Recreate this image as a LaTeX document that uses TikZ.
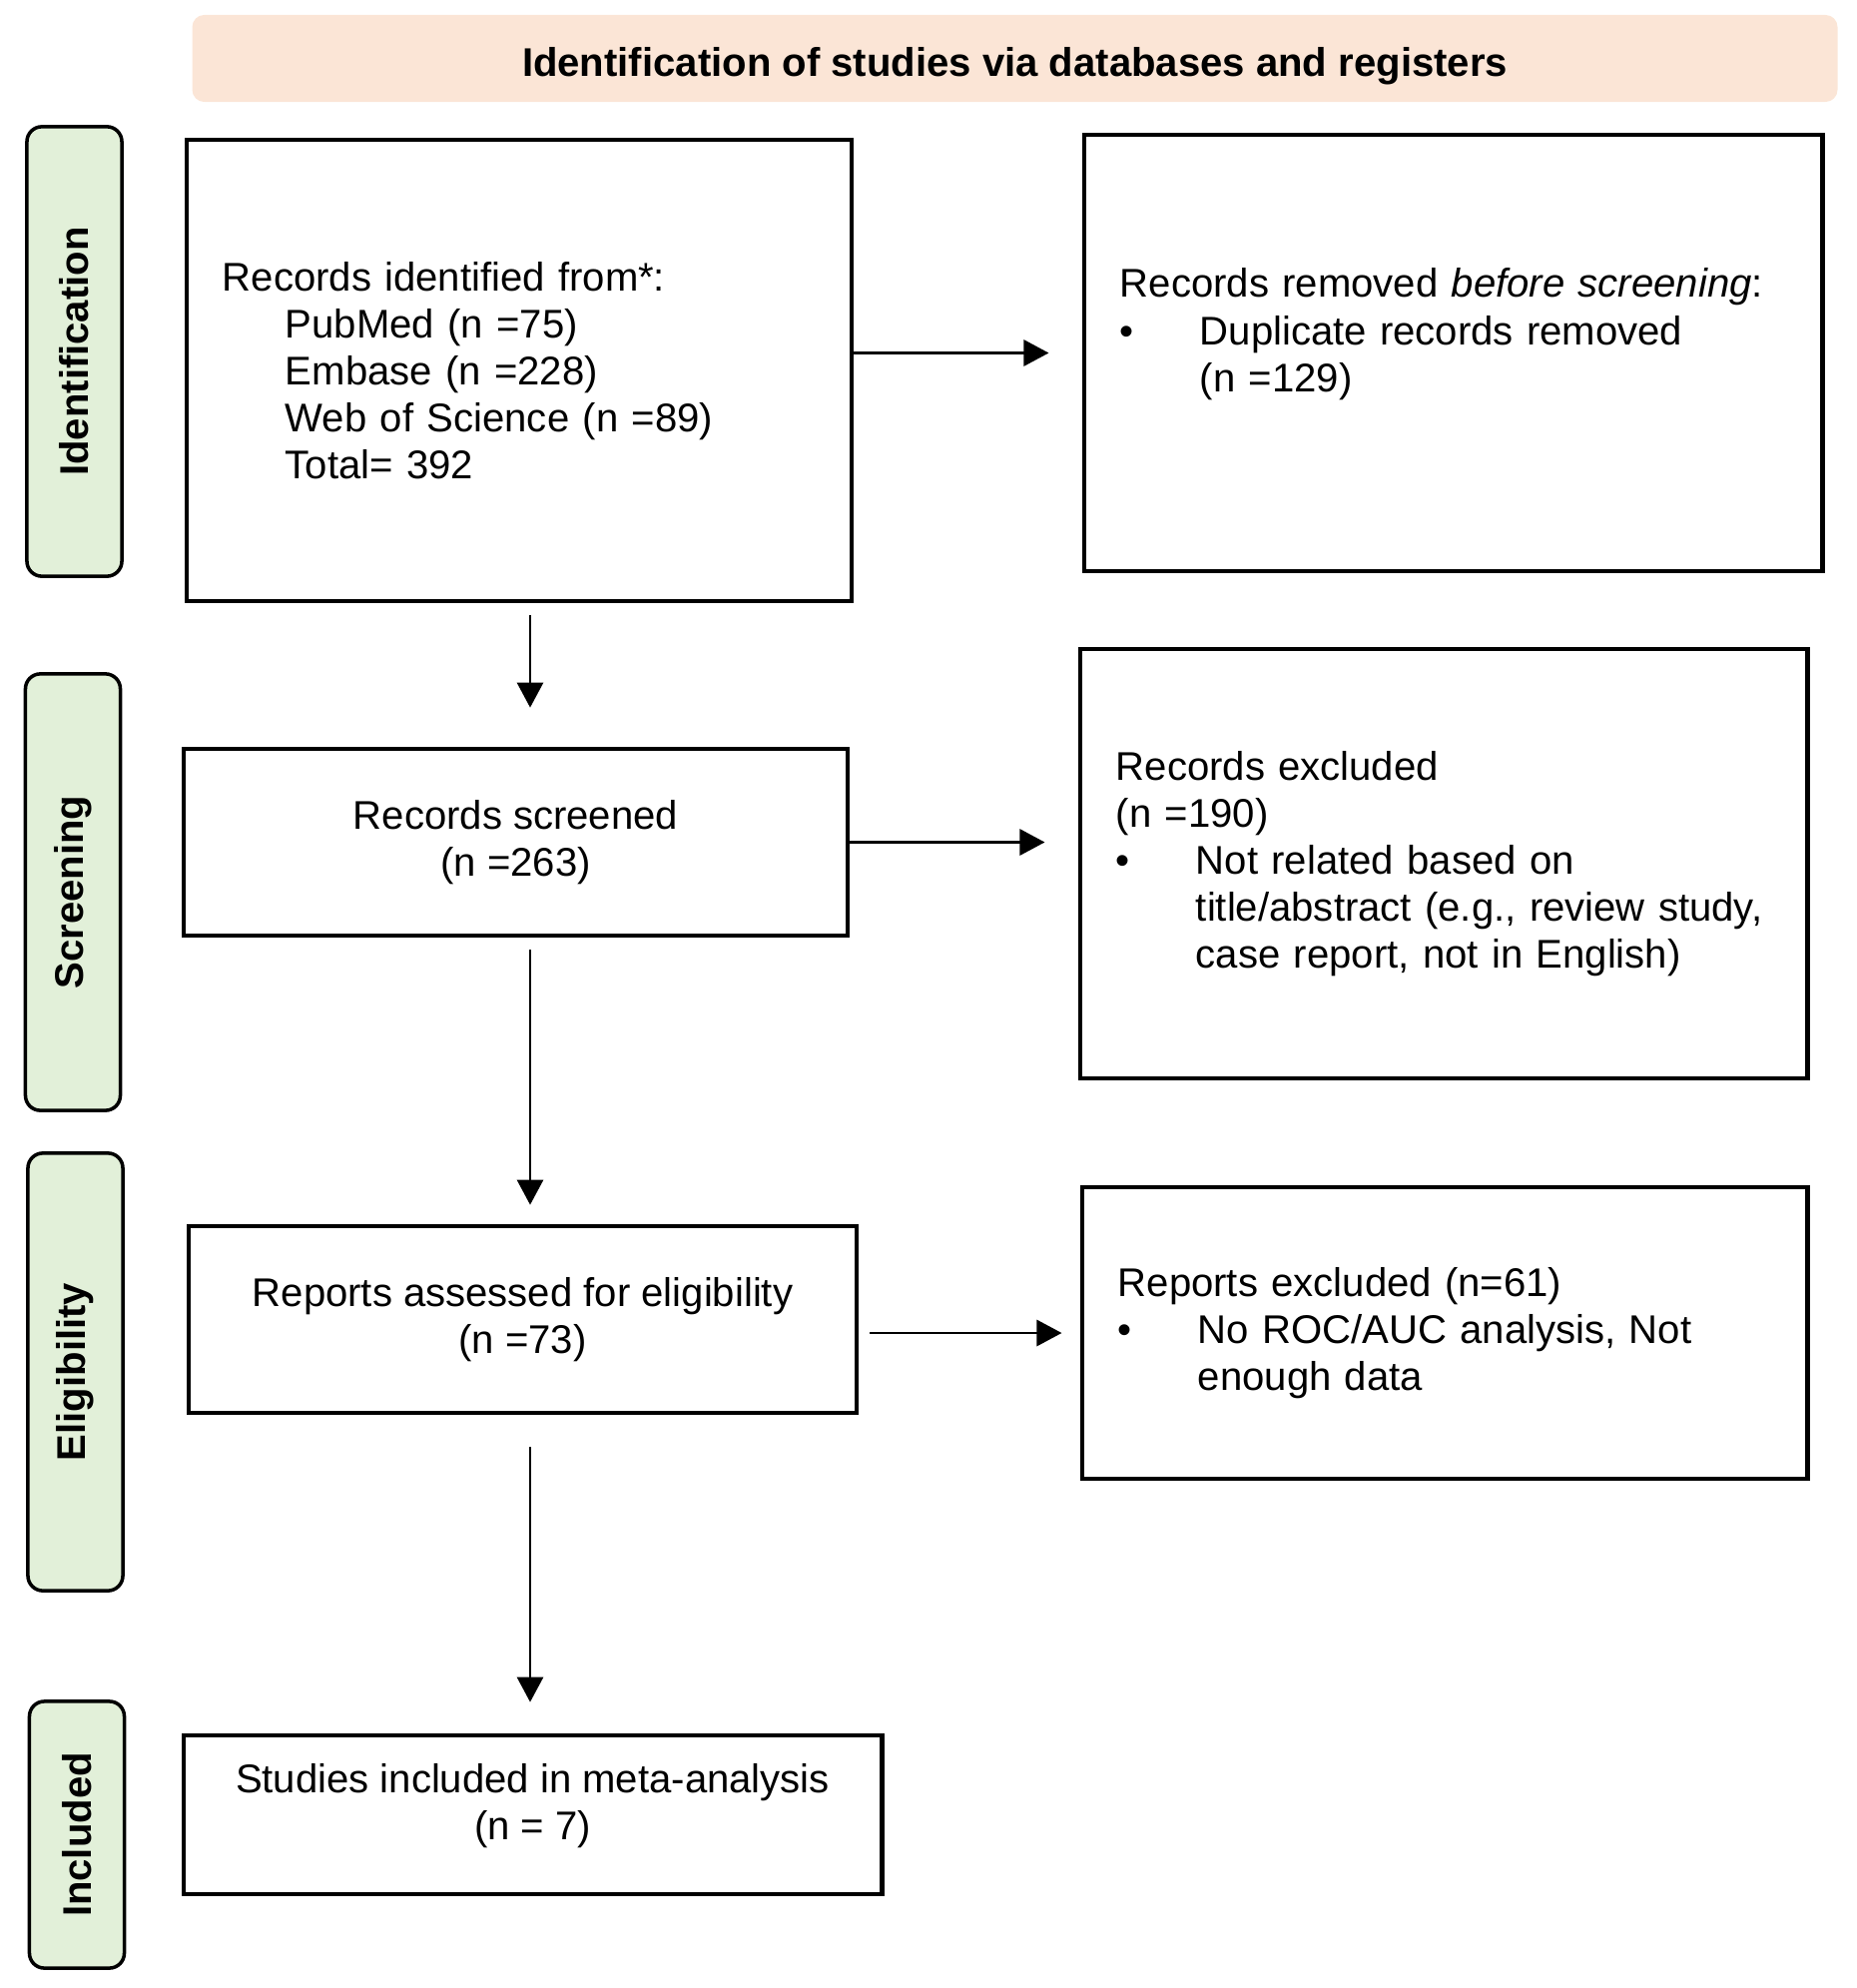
\documentclass[tikz,border=0pt]{standalone}
\usepackage{fontspec}
\setmainfont{Liberation Sans}
\usepackage{tikz}
\usetikzlibrary{arrows.meta}

\definecolor{headpeach}{HTML}{FBE5D6}
\definecolor{phasegreen}{HTML}{E2F0D9}
\newcommand{\bul}{\makebox[0.8cm][l]{\textbullet}}
\newcommand{\ind}{\hspace*{0.8cm}}
\newcommand{\srcind}{\hspace*{0.63cm}}

\begin{document}
\begin{tikzpicture}
  [x=0.01cm,y=-0.01cm,
   every node/.style={font=\fontsize{11.4}{13.4}\selectfont},
   head/.style={fill=headpeach,rounded corners=0.12cm,minimum width=16.47cm,
     minimum height=0.87cm,font=\bfseries\fontsize{11.4}{13.4}\selectfont},
   phase/.style={draw,line width=1pt,fill=phasegreen,rounded corners=0.15cm,
     rotate=90,minimum height=0.95cm,font=\bfseries\fontsize{11.4}{13.4}\selectfont},
   box/.style={draw,line width=1.3pt,align=center},
   lbox/.style={draw,line width=1.3pt,align=left,inner xsep=0.36cm},
   arr/.style={line width=0.8pt,-{Triangle[length=0.25cm,width=0.26cm]}}]
  \useasboundingbox (0,0) rectangle (1859,1991);

  % header and phases
  \node[head] (title) at (1016.5,58.5) {\rule{0pt}{2.1ex}Identification of studies via databases and registers};
  \node[phase,minimum width=4.50cm] (pident) at (74.5,352) {Identification};
  \node[phase,minimum width=4.37cm] (pscreen) at (73,893.5) {Screening};
  \node[phase,minimum width=4.38cm] (pelig) at (75.5,1374) {Eligibility};
  \node[phase,minimum width=2.67cm] (pincl) at (77,1837.5) {Included};

  % main column
  \node[lbox,text width=5.94cm,minimum height=4.62cm] (ident) at (520,371)
    {Records identified from*:\\
     \srcind PubMed (n =75)\\
     \srcind Embase (n =228)\\
     \srcind Web of Science (n =89)\\
     \srcind Total= 392};
  \node[box,minimum width=6.65cm,minimum height=1.87cm] (screened) at (516.5,843.5)
    {Records screened\\(n =263)};
  \node[box,minimum width=6.69cm,minimum height=1.87cm] (assessed) at (523.5,1321.5)
    {Reports assessed for eligibility\\(n =73)};
  \node[box,minimum width=6.99cm,minimum height=1.59cm] (included) at (533.5,1817.5)
    {Studies included in meta-analysis\\(n = 7)\rule[-0.26cm]{0pt}{0pt}};

  % side column
  \node[lbox,text width=6.67cm,minimum height=4.37cm] (removed) at (1455.5,353.5)
    {Records removed \textit{before screening}:\\
     \bul Duplicate records removed\\
     \ind (n =129)\rule[-0.46cm]{0pt}{0pt}};
  \node[lbox,text width=6.56cm,minimum height=4.30cm] (excluded) at (1446,865)
    {Records excluded\\
     (n =190)\\
     \bul Not related based on\\
     \ind title/abstract (e.g., review study,\\
     \ind case report, not in English)};
  \node[lbox,text width=6.54cm,minimum height=2.92cm] (rexcl) at (1447,1335)
    {Reports excluded (n=61)\\
     \bul No ROC/AUC analysis, Not\\
     \ind enough data};

  % arrows
  \coordinate (spine) at (531,0);
  \draw[arr,shorten <=0.12cm,shorten >=0.39cm] (ident.south -| spine) -- (screened.north -| spine);
  \draw[arr,shorten <=0.12cm,shorten >=0.19cm] (screened.south -| spine) -- (assessed.north -| spine);
  \draw[arr,shorten <=0.32cm,shorten >=0.31cm] (assessed.south -| spine) -- (included.north -| spine);
  \draw[arr,shorten >=0.33cm] (ident.east |- removed.west) -- (removed.west);
  \draw[arr,shorten >=0.33cm] (screened.east) -- (screened.east -| excluded.west);
  \draw[arr,shorten <=0.11cm,shorten >=0.18cm] (assessed.east |- rexcl.west) -- (rexcl.west);
\end{tikzpicture}
\end{document}
